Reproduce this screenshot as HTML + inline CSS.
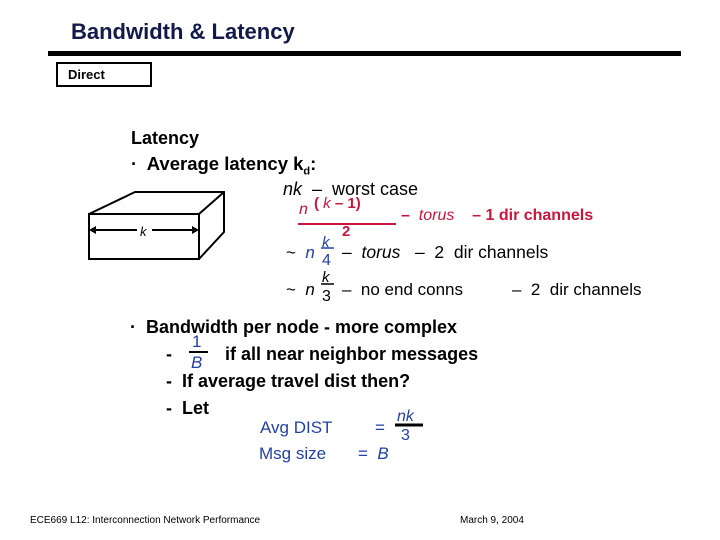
<!DOCTYPE html>
<html><head><meta charset="utf-8"><style>
body{margin:0;width:720px;height:540px;background:#fff;position:relative;overflow:hidden;font-family:"Liberation Sans",Arial,sans-serif}
.a{position:absolute;white-space:nowrap;line-height:1}
.b{font-weight:bold}
.r{color:#c8163c}.u{color:#2340a8}
.i{font-style:italic}
</style></head><body>
<div class="a b" style="left:71px;top:21px;font-size:22px;color:#111a4a">Bandwidth &amp; Latency</div>
<div style="position:absolute;left:48px;top:51px;width:633px;height:5px;background:#000"></div>
<div style="position:absolute;left:56px;top:62px;width:92px;height:21px;border:2px solid #000"></div>
<div class="a b" style="left:68px;top:68px;font-size:13px">Direct</div>

<div class="a b" style="left:131px;top:129px;font-size:18px">Latency</div>
<div class="a b" style="left:131px;top:155px;font-size:18.5px">·&nbsp; Average latency k<sub style="font-size:11px">d</sub>:</div>

<svg style="position:absolute;left:0;top:0" width="720" height="540">
<g fill="none" stroke="#000" stroke-width="2">
<rect x="89" y="214" width="110" height="45"/>
<polyline points="89,214 135,192 224,192 224,232 199,259"/>
<line x1="199" y1="214" x2="224" y2="192"/>
<line x1="93" y1="230" x2="137" y2="230"/><line x1="152" y1="230" x2="195" y2="230"/>
</g>
<polygon points="89,230 96,226 96,234"/><polygon points="199,230 192,226 192,234"/>
<line x1="298" y1="224" x2="396" y2="224" stroke="#c8163c" stroke-width="2"/>
<line x1="321" y1="248" x2="334" y2="248" stroke="#2340a8" stroke-width="1.5"/>
<line x1="321" y1="284" x2="334" y2="284" stroke="#000" stroke-width="1.5"/>
<line x1="189" y1="352" x2="208" y2="352" stroke="#000" stroke-width="2"/>
<line x1="395" y1="425" x2="423" y2="425" stroke="#000" stroke-width="3"/>
</svg>
<div class="a" style="left:140px;top:225px;font-size:13px;font-style:italic">k</div>

<div class="a" style="left:283px;top:180px;font-size:18px"><span class="i">nk</span> &nbsp;–&nbsp; worst case</div>
<div class="a r" style="left:299px;top:202px;font-size:16px"><span class="i">n</span></div>
<div class="a r b" style="left:314px;top:196px;font-size:15px">( <span class="i" style="font-weight:normal">k</span> – 1)</div>
<div class="a r b" style="left:342px;top:224px;font-size:15px">2</div>
<div class="a r" style="left:401px;top:208px;font-size:16px"><b>–</b>&nbsp; <span class="i">torus</span> &nbsp;&nbsp; <b>– 1 dir channels</b></div>

<div class="a" style="left:286px;top:244px;font-size:17px">~ &nbsp;<span class="i u">n</span></div>
<div class="a u i" style="left:322px;top:235px;font-size:15px">k</div>
<div class="a u" style="left:322px;top:253px;font-size:16px">4</div>
<div class="a" style="left:342px;top:244px;font-size:17.5px">– &nbsp;<span class="i">torus</span> &nbsp; – &nbsp;2 &nbsp;dir channels</div>

<div class="a" style="left:286px;top:281px;font-size:17px">~ &nbsp;<span class="i">n</span></div>
<div class="a i" style="left:322px;top:270px;font-size:15px">k</div>
<div class="a" style="left:322px;top:289px;font-size:16px">3</div>
<div class="a" style="left:342px;top:281px;font-size:17px">– &nbsp;no end conns</div>
<div class="a" style="left:512px;top:281px;font-size:17px">– &nbsp;2 &nbsp;dir channels</div>

<div class="a b" style="left:130px;top:318px;font-size:18px">·&nbsp; Bandwidth per node - more complex</div>
<div class="a u" style="left:192px;top:333px;font-size:17px">1</div>
<div class="a u i" style="left:191px;top:354px;font-size:17px">B</div>
<div class="a b" style="left:166px;top:345px;font-size:18px">-</div>
<div class="a b" style="left:225px;top:345px;font-size:18px">if all near neighbor messages</div>
<div class="a b" style="left:166px;top:372px;font-size:18px">- &nbsp;If average travel dist then?</div>
<div class="a b" style="left:166px;top:399px;font-size:18px">- &nbsp;Let</div>
<div class="a u" style="left:260px;top:419px;font-size:17px">Avg DIST</div>
<div class="a u" style="left:375px;top:419px;font-size:17px">=</div>
<div class="a u i" style="left:397px;top:409px;font-size:16px">nk</div>
<div class="a u" style="left:401px;top:428px;font-size:16px">3</div>
<div class="a u" style="left:259px;top:445px;font-size:17px">Msg size</div>
<div class="a u" style="left:358px;top:445px;font-size:17px">= &nbsp;<span class="i">B</span></div>

<div class="a" style="left:30px;top:516px;font-size:10px">ECE669 L12: Interconnection Network Performance</div>
<div class="a" style="left:460px;top:516px;font-size:10px">March 9, 2004</div>
</body></html>
